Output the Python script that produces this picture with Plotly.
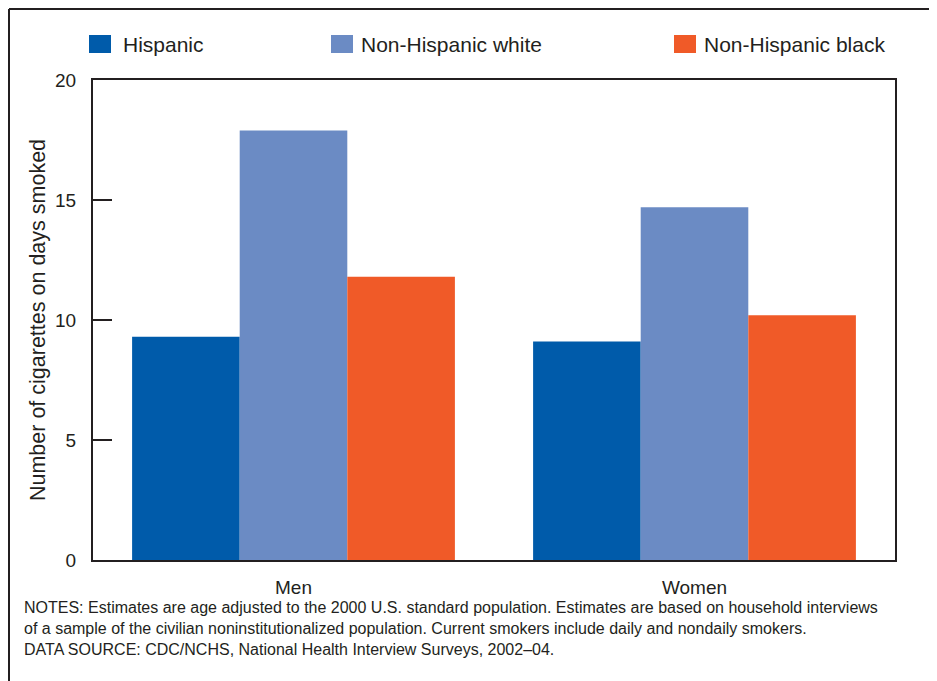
import plotly.graph_objects as go

categories = ["Men", "Women"]
series_names = ["Hispanic", "Non-Hispanic white", "Non-Hispanic black"]
hispanic = [9.3, 9.1]
nh_white = [17.9, 14.7]
nh_black = [11.8, 10.2]
series_values = [hispanic, nh_white, nh_black]
colors = ["#005BAA", "#6B8BC4", "#F05A28"]
y_ticks = [0, 5, 10, 15, 20]

OFF = 8  # page body margin
W, H = 937 - OFF, 681 - OFF
L, T = 93 - OFF, 80 - OFF
R = W - (895 - OFF)
B = H - (560 - OFF)
pw, ph = W - L - R, H - T - B

def px(x):  # screen x -> paper
    return (x - OFF - L) / pw

def py(y):  # screen y -> paper
    return (H - B - (y - OFF)) / ph

FONT = "Liberation Sans, Arial, Helvetica, sans-serif"
INK = "#231F20"

fig = go.Figure()
for name, vals, c in zip(series_names, series_values, colors):
    fig.add_trace(go.Bar(x=categories, y=vals, name=name, marker_color=c,
                         marker_line_width=0, showlegend=False))

shapes = []
annotations = []
# manual legend
leg_sq = [89, 331, 674]
leg_tx = [121, 359, 702]
for name, c, x0, xt in zip(series_names, colors, leg_sq, leg_tx):
    shapes.append(dict(type="rect", xref="paper", yref="paper",
                       x0=px(x0), x1=px(x0 + 22), y0=py(53), y1=py(35),
                       fillcolor=c, line_width=0))
    annotations.append(dict(text=name, xref="paper", yref="paper",
                            x=px(xt), y=py(44), xanchor="left", yanchor="middle",
                            showarrow=False, font=dict(size=21, color=INK, family=FONT)))

# outer frame lines (left and top)
shapes.append(dict(type="line", xref="paper", yref="paper", x0=px(9), x1=px(9),
                   y0=py(9), y1=py(H + OFF + 5), line=dict(color=INK, width=2)))
shapes.append(dict(type="line", xref="paper", yref="paper", x0=px(9), x1=px(W + OFF + 5),
                   y0=py(9), y1=py(9), line=dict(color=INK, width=2)))

notes = ("NOTES: Estimates are age adjusted to the 2000 U.S. standard population. Estimates are based on household interviews<br>"
         "of a sample of the civilian noninstitutionalized population. Current smokers include daily and nondaily smokers.<br>"
         "DATA SOURCE: CDC/NCHS, National Health Interview Surveys, 2002\u201304.")
annotations.append(dict(text=notes, xref="paper", yref="paper", x=px(22), y=py(597),
                        xanchor="left", yanchor="top", align="left", showarrow=False,
                        font=dict(size=16, color=INK, family=FONT)))

fig.update_layout(
    width=W, height=H,
    margin=dict(l=L, r=R, t=T, b=B, pad=0),
    paper_bgcolor="white", plot_bgcolor="white",
    barmode="group", bargap=0.195, bargroupgap=0,
    font=dict(family=FONT, color=INK),
    shapes=shapes, annotations=annotations,
)
fig.update_xaxes(showline=True, linecolor=INK, linewidth=2, mirror=True,
                 ticks="", showgrid=False, tickfont=dict(size=19, color=INK),
                 ticklabelstandoff=9)
fig.update_yaxes(range=[0, 20], tickvals=y_ticks, showline=True, linecolor=INK,
                 linewidth=2, mirror=True, ticks="inside", ticklen=19, tickwidth=2,
                 tickcolor=INK, showgrid=False, zeroline=False,
                 tickfont=dict(size=19, color=INK), ticklabelstandoff=11,
                 title=dict(text="Number of cigarettes on days smoked",
                            font=dict(size=21.5, color=INK), standoff=4))

fig.write_html("out.html")
